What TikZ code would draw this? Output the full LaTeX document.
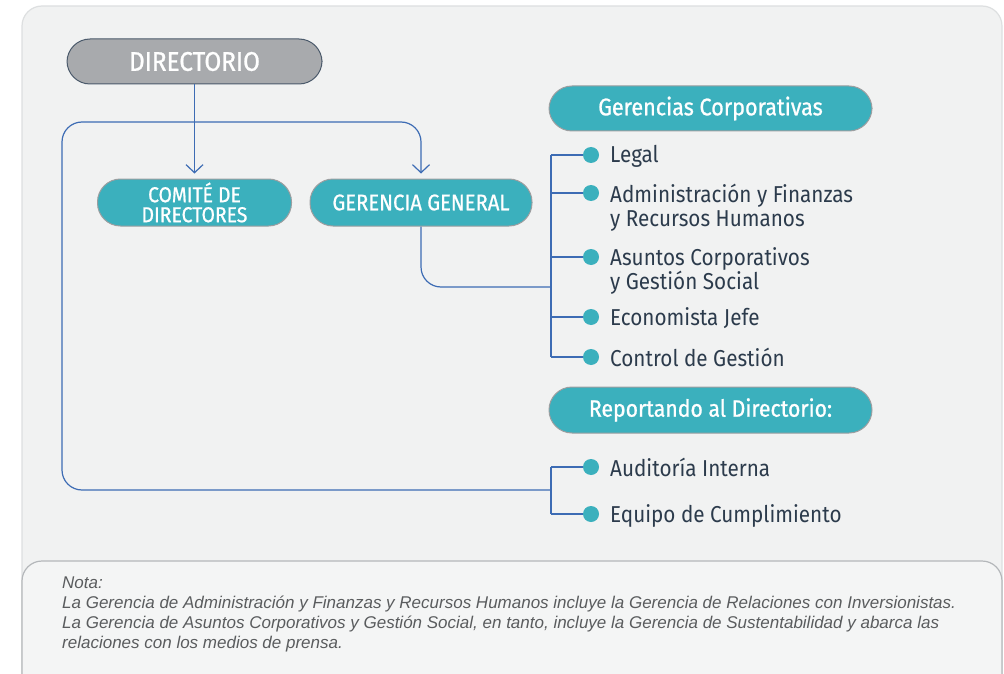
\documentclass[tikz,border=0pt]{standalone}
\usepackage{fontspec}
\setmainfont{Fira Sans}[FakeStretch=0.9]
\newfontfamily\headfont{Fira Sans}[FakeStretch=0.9, FakeBold=0.9]
\newfontfamily\notefont{Liberation Sans}
\usetikzlibrary{positioning, calc, arrows.meta}

\definecolor{panelfill}{HTML}{F1F2F2}
\definecolor{panelline}{HTML}{DDDFE0}
\definecolor{notefill}{HTML}{F4F5F5}
\definecolor{noteline}{HTML}{B4B7BA}
\definecolor{tealpill}{HTML}{3BB0BD}
\definecolor{pillgray}{HTML}{9C9EA0}
\definecolor{dirfill}{HTML}{A8AAAD}
\definecolor{dirline}{HTML}{4B5A6B}
\definecolor{linkblue}{HTML}{3D6CB4}
\definecolor{itemtext}{HTML}{2C3B4C}
\definecolor{notetext}{HTML}{5A5C5E}

\tikzset{
  pill/.style={draw=pillgray, line width=1pt, fill=tealpill, rounded corners=23pt,
    inner sep=0pt, text=white, align=center, font=\headfont},
  link/.style={draw=linkblue, line width=1.2pt},
  tip/.style={-{Straight Barb[length=8pt, width=17pt]}, shorten >=5pt},
  dot/.style={circle, fill=tealpill, inner sep=0pt, minimum size=16pt},
  item/.style={anchor=north west, yshift=9.6pt, inner sep=0pt, align=left,
    text=itemtext, font=\fontsize{23}{24}\selectfont\strut}
}

\begin{document}
\begin{tikzpicture}[x=1pt, y=-1pt]
    \useasboundingbox (0,0) rectangle (1004,674);
    \clip (0,0) rectangle (1004,674);
    % panels
    \draw[fill=panelfill, draw=panelline, line width=1.2pt, rounded corners=20pt] (22,6) rectangle (1002,720);
    \draw[fill=notefill, draw=noteline, line width=1.2pt, rounded corners=20pt] (22,561) rectangle (1002,720);

    % top boxes
    \node[pill, fill=dirfill, draw=dirline, minimum width=255pt, minimum height=45pt,
      font=\headfont\fontsize{27}{27}\selectfont] (dir) at (194.5,61.5) {DIRECTORIO};
    \node[pill, minimum width=194pt, minimum height=47pt,
      font=\headfont\fontsize{21.5}{20}\selectfont] (com) at (194.5,202.5) {COMITÉ DE\\DIRECTORES};
    \node[pill, minimum width=222pt, minimum height=47pt,
      font=\headfont\fontsize{22.5}{22}\selectfont] (gg) at (421,202.5) {GERENCIA GENERAL};
    \node[pill, minimum width=323pt, minimum height=45pt,
      font=\headfont\fontsize{24}{24}\selectfont] (gc) at (710.5,108.5) {Gerencias Corporativas};
    \node[pill, minimum width=323pt, minimum height=46pt,
      font=\headfont\fontsize{23.6}{24}\selectfont] (rep) at (710.5,410) {Reportando al Directorio:};

    % dots
    \foreach \i/\y in {1/155,2/193,3/257,4/317,5/357,6/467,7/514} {
      \node[dot] (d\i) at (591,\y) {};
    }

    % items
    \node[item] (legal) at (610,155) {Legal};
    \node[item] (adm) at (610,193) {Administración y Finanzas\\y Recursos Humanos};
    \node[item] (asc) at (610,257) {Asuntos Corporativos\\y Gestión Social};
    \node[item] (eco) at (610,317) {Economista Jefe};
    \node[item] (cdg) at (610,357) {Control de Gestión};
    \node[item] (aud) at (610,467) {Auditoría Interna};
    \node[item] (eqc) at (610,514) {Equipo de Cumplimiento};

    % brackets
    \coordinate (br1) at (551,287);
    \coordinate (br2) at (551,490);
    \coordinate (loopL) at (62,122);
    \draw[link] (d1 -| br1) -- (d5 -| br1);
    \draw[link] (d6 -| br2) -- (d7 -| br2);
    \foreach \i in {1,...,5} {
      \draw[link] (d\i -| br1) -- (d\i);
    }
    \foreach \i in {6,7} {
      \draw[link] (d\i -| br2) -- (d\i);
    }

    % connectors
    \draw[link, tip] (dir.south) -- (com.north);
    \draw[link, tip, rounded corners=20pt] (br2) -| (loopL) -| (gg.north);
    \draw[link, rounded corners=20pt] (gg.south) |- (br1);

    % note
    \node[anchor=north west, inner sep=0pt, align=left, text=notetext,
      font=\notefont\itshape\fontsize{17}{20}\selectfont] (nota) at (62,577)
      {Nota:\\
       La Gerencia de Administración y Finanzas y Recursos Humanos incluye la Gerencia de Relaciones con Inversionistas.\\
       La Gerencia de Asuntos Corporativos y Gestión Social, en tanto, incluye la Gerencia de Sustentabilidad y abarca las\\
       relaciones con los medios de prensa.};
\end{tikzpicture}
\end{document}
